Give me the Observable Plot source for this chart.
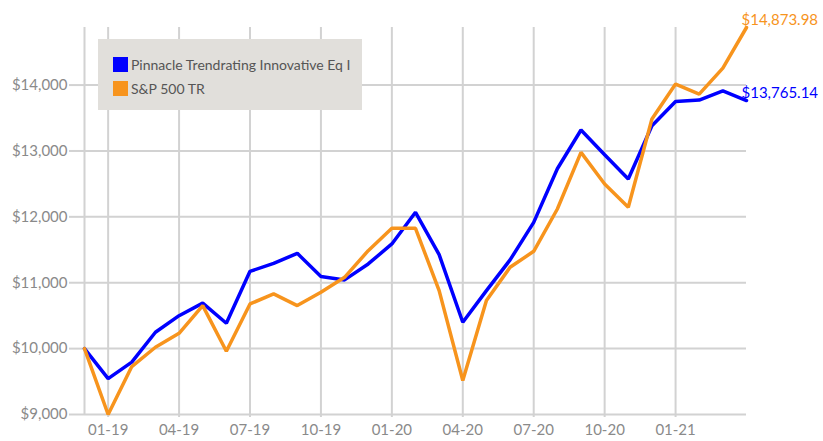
<!DOCTYPE html>
<html>
<head>
<meta charset="utf-8">
<script src="https://cdn.jsdelivr.net/npm/d3@7"></script>
<script src="https://cdn.jsdelivr.net/npm/@observablehq/plot@0.6"></script>
<style>
  html, body { margin: 0; padding: 0; background: #fff; }
  #wrap { position: relative; width: 823px; height: 441px; font-family: Lato, "Open Sans", sans-serif; }
  #legend { position: absolute; left: 98px; top: 39px; width: 264px; height: 71px; background: #e1dfdb; }
  .item { position: absolute; left: 15px; display: flex; align-items: center; font-size: 14px; color: #555; white-space: nowrap; }
  .sw { width: 15px; height: 15px; margin-right: 3px; }
</style>
</head>
<body>
<div id="wrap"></div>
<script>
const months = ["12-18","01-19","02-19","03-19","04-19","05-19","06-19","07-19","08-19","09-19","10-19","11-19","12-19",
  "01-20","02-20","03-20","04-20","05-20","06-20","07-20","08-20","09-20","10-20","11-20","12-20",
  "01-21","02-21","03-21","04-21"];
const seriesNames = ["Pinnacle Trendrating Innovative Eq I", "S&P 500 TR"];
const pinnacle = [10000, 9545, 9795, 10248, 10500, 10690, 10385, 11173, 11295, 11446, 11093, 11043, 11285,
  11589, 12069, 11426, 10400, 10880, 11346, 11916, 12730, 13318, 12943, 12574, 13382,
  13751, 13772, 13913, 13765.14];
const sp500 = [10000, 9000, 9728, 10021, 10233, 10653, 9960, 10678, 10830, 10653, 10855, 11082, 11487,
  11826, 11826, 10880, 9516, 10729, 11234, 11477, 12119, 12978, 12498, 12145, 13484,
  14015, 13863, 14258, 14873.98];
const colors = ["#0000ff", "#f7941d"];
const xTickLabels = ["01-19","04-19","07-19","10-19","01-20","04-20","07-20","10-20","01-21"];
const yTicks = [9000, 10000, 11000, 12000, 13000, 14000];

const xTicks = xTickLabels.map(l => months.indexOf(l));
const data = [];
months.forEach((m, i) => {
  data.push({i, m, series: seriesNames[0], value: pinnacle[i]});
  data.push({i, m, series: seriesNames[1], value: sp500[i]});
});
const last = months.length - 1;
const ends = [
  {i: last, series: seriesNames[0], value: pinnacle[last]},
  {i: last, series: seriesNames[1], value: sp500[last]}
];
const fmtEnd = d3.format("$,.2f");
const fmtY = d => "$" + d3.format(",")(d);

const chart = Plot.plot({
  width: 823,
  height: 441,
  marginLeft: 84,
  marginRight: 77,
  marginTop: 27,
  marginBottom: 27,
  style: {fontFamily: "Lato, 'Open Sans', sans-serif", background: "transparent"},
  x: {type: "linear", domain: [0, last], label: null},
  y: {domain: [9000, 14874], label: null},
  color: {domain: seriesNames, range: colors},
  marks: [
    Plot.gridX(xTicks, {stroke: "#d2d2d2", strokeOpacity: 1, strokeWidth: 2}),
    Plot.gridY(yTicks, {stroke: "#d2d2d2", strokeOpacity: 1, strokeWidth: 2}),
    Plot.ruleX([0], {stroke: "#d2d2d2", strokeWidth: 2}),
    Plot.axisX(xTicks, {tickFormat: i => months[i], label: null, tickSize: 3, stroke: "#d2d2d2", strokeWidth: 2, tickPadding: 7, fontSize: 15, fill: "#8a8a8a"}),
    Plot.axisY(yTicks, {tickFormat: fmtY, label: null, tickSize: 15, stroke: "#d2d2d2", strokeWidth: 2, tickPadding: 2, fontSize: 15, fill: "#8a8a8a"}),
    Plot.line(data, {x: "i", y: "value", z: "series", stroke: "series", strokeWidth: 3.5, strokeLinejoin: "miter"}),
    Plot.text(ends, {x: "i", y: "value", text: d => fmtEnd(d.value), fill: "series", textAnchor: "start", dx: -5, dy: -7, fontSize: 15})
  ]
});

const wrap = document.getElementById("wrap");
wrap.appendChild(chart);
const legend = document.createElement("div");
legend.id = "legend";
seriesNames.forEach((name, k) => {
  const item = document.createElement("div");
  item.className = "item";
  item.style.top = (17 + k * 24) + "px";
  const sw = document.createElement("span");
  sw.className = "sw";
  sw.style.background = colors[k];
  const t = document.createElement("span");
  t.textContent = name;
  item.appendChild(sw);
  item.appendChild(t);
  legend.appendChild(item);
});
wrap.appendChild(legend);
</script>
</body>
</html>
